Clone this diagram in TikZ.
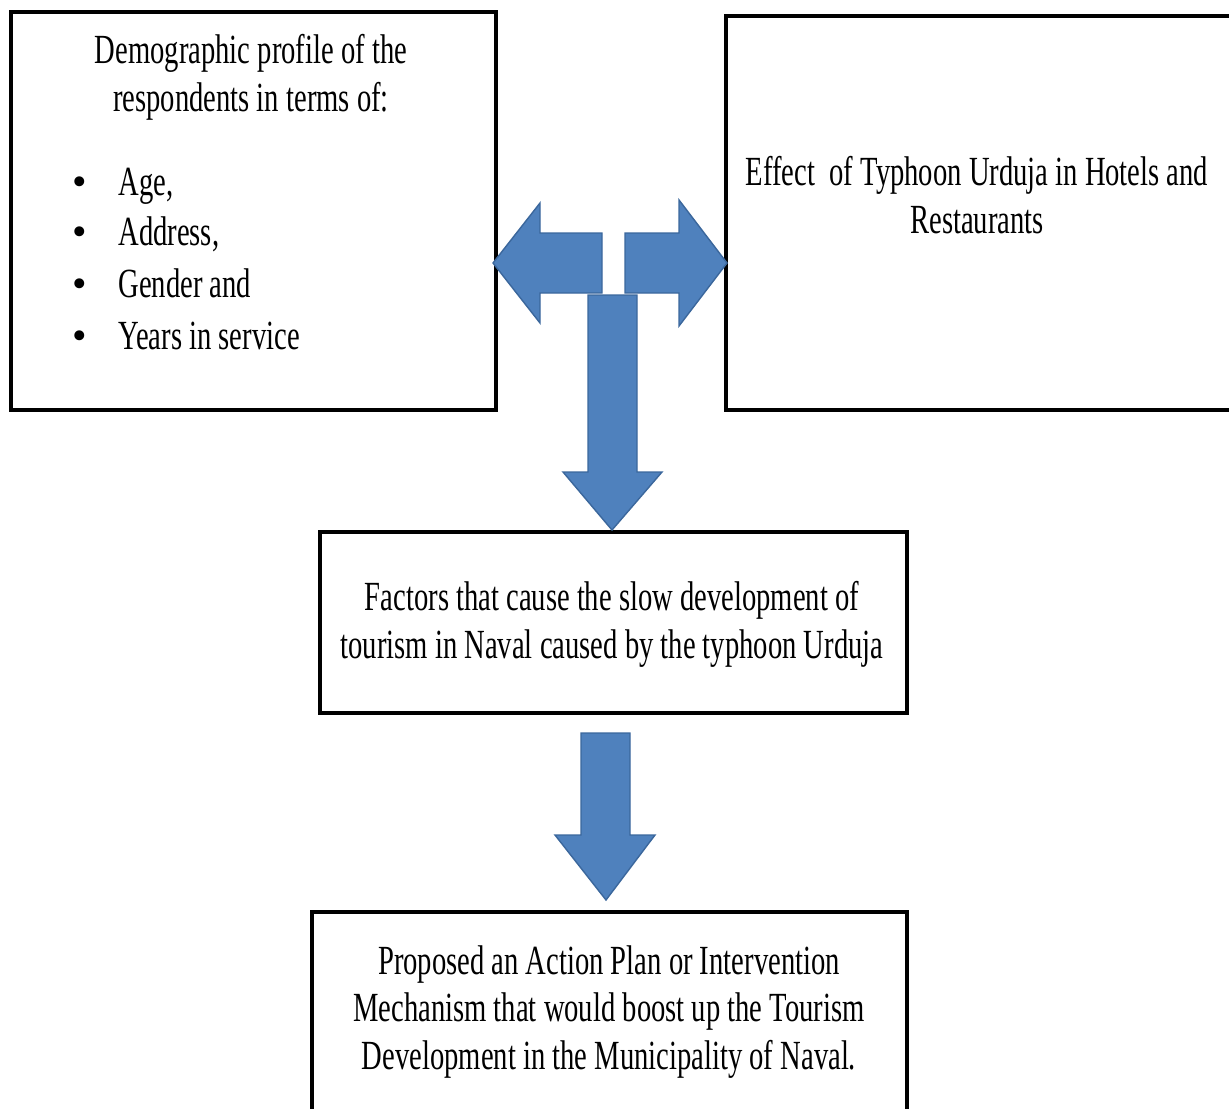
\documentclass[tikz,border=0pt]{standalone}
\usepackage{fontspec}
\setmainfont{Liberation Serif}[FakeStretch=0.69]
\newfontfamily\bulfont{Liberation Serif}
\definecolor{arrowBlue}{HTML}{4F81BD}
\definecolor{arrowEdge}{HTML}{3B679C}
\tikzset{
  box/.style={draw,line width=1.8pt,inner sep=0pt},
  blockArrow/.style={fill=arrowBlue,draw=arrowEdge,line width=0.8pt,line join=miter},
  txt/.style={inner sep=0pt,align=center,font=\fontsize{23.6pt}{27.2pt}\selectfont},
  bul/.style={inner sep=0pt,anchor=base,font=\bulfont\fontsize{23.6pt}{27.2pt}\selectfont},
}
\begin{document}
\begin{tikzpicture}[x=0.02cm,y=-0.02cm]
\useasboundingbox (0,0) rectangle (1229,1108);
%boxes
\node[box,minimum width=9.7cm,minimum height=7.96cm] (demoBox) at (253.5,211) {};
\node[box,minimum width=10.48cm,minimum height=7.88cm] (effectBox) at (988,213) {};
\node[box,minimum width=11.74cm,minimum height=3.62cm] (factorBox) at (613.5,622.5) {};
\node[box,minimum width=11.9cm,minimum height=4.36cm] (planBox) at (609.5,1021) {};
%texts
\node[txt] (demoHead) at (251,77) {Demographic profile of the\\respondents in terms of:};
\node[bul] (bulA) at (80,195) {\textbullet};
\node[txt,anchor=base west] (itemA) at (118,195) {Age,};
\node[bul] (bulB) at (80,245) {\textbullet};
\node[txt,anchor=base west] (itemB) at (118,245) {Address,};
\node[bul] (bulC) at (80,297) {\textbullet};
\node[txt,anchor=base west] (itemC) at (118,297) {Gender and};
\node[bul] (bulD) at (80,349) {\textbullet};
\node[txt,anchor=base west] (itemD) at (118,349) {Years in service};
\node[txt] (effectTxt) at (977,195) {Effect\ \ of Typhoon Urduja in Hotels and\\Restaurants};
\node[txt] (factorTxt) at (612,624) {Factors that cause the slow development of\\tourism in Naval caused by the typhoon Urduja};
\node[txt] (planTxt) at (609,1012) {Proposed an Action Plan or Intervention\\Mechanism that would boost up the Tourism\\Development in the Municipality of Naval.};
%block arrows
\draw[blockArrow] (602,233)--(540,233)--(540,203)--(493,263)--(540,323)--(540,293)--(602,293)--cycle;
\draw[blockArrow] (625,233)--(679,233)--(679,200)--(727,263)--(679,326)--(679,293)--(625,293)--cycle;
\draw[blockArrow] (588,295)--(637,295)--(637,472)--(662,472)--(612,530)--(563,472)--(588,472)--cycle;
\draw[blockArrow] (581,733)--(630,733)--(630,835)--(655,835)--(606,900)--(555,835)--(581,835)--cycle;
\end{tikzpicture}
\end{document}
